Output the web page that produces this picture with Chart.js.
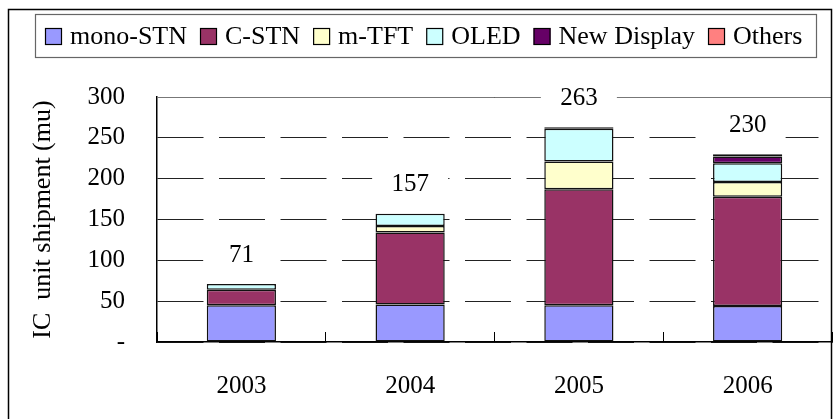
<!DOCTYPE html>
<html>
<head>
<meta charset="utf-8">
<script src="https://cdn.jsdelivr.net/npm/chart.js@4"></script>
<style>
  html, body { margin: 0; padding: 0; background: #fff; }
  #wrap { width: 833px; height: 419px; }
</style>
</head>
<body>
<div id="wrap"><canvas id="chart" width="833" height="419"></canvas></div>
<script>
// chart data
const years = ["2003", "2004", "2005", "2006"];
const monoStn = [45, 46, 45, 44];
const cStn = [19, 88, 142, 134];
const mTft = [0, 8, 34, 18];
const oled = [7, 15, 40, 23];
const newDisplay = [0, 0, 2, 8];
const others = [0, 0, 0, 3];
const yTicks = [0, 50, 100, 150, 200, 250, 300];

const FONT = "'Liberation Serif', 'Times New Roman', serif";

// white page + outer frame
const framePlugin = {
  id: "frame",
  beforeDraw: (chart) => {
    const ctx = chart.ctx;
    ctx.save();
    ctx.fillStyle = "#fff";
    ctx.fillRect(0, 0, chart.width, chart.height);
    ctx.restore();
  },
  beforeDatasetsDraw: (chart) => {
    // solid top line of the plot (300)
    const { ctx, chartArea } = chart;
    const y = Math.round(chart.scales.y.getPixelForValue(300)) + 0.5;
    ctx.save();
    ctx.strokeStyle = "#777";
    ctx.lineWidth = 1;
    ctx.beginPath();
    ctx.moveTo(chartArea.left, y);
    ctx.lineTo(chartArea.right, y);
    ctx.stroke();
    ctx.restore();
  },
  afterDraw: (chart) => {
    const ctx = chart.ctx;
    ctx.save();
    ctx.strokeStyle = "#000";
    ctx.lineWidth = 1.5;
    ctx.strokeRect(8.5, 9.5, 823, chart.height + 10);
    ctx.restore();
  },
};

// boxed legend on one row
const legendPlugin = {
  id: "boxLegend",
  afterDraw: (chart) => {
    const ctx = chart.ctx;
    ctx.save();
    ctx.fillStyle = "#fff";
    ctx.fillRect(35.5, 14.5, 781, 43);
    ctx.strokeStyle = "#666";
    ctx.lineWidth = 1.2;
    ctx.strokeRect(35.5, 14.5, 781, 43);
    ctx.font = "26px " + FONT;
    ctx.textBaseline = "middle";
    let x = 45;
    chart.data.datasets.forEach((ds) => {
      ctx.fillStyle = ds.backgroundColor;
      ctx.fillRect(x, 28, 17, 17);
      ctx.strokeStyle = "#000";
      ctx.lineWidth = 1.2;
      ctx.strokeRect(x + 0.5, 28.5, 16, 16);
      ctx.fillStyle = "#000";
      ctx.fillText(ds.label, x + 25, 37);
      x += 25 + ctx.measureText(ds.label).width + 13;
    });
    ctx.restore();
  },
};

// totals above each bar
const totalsPlugin = {
  id: "totals",
  afterDatasetsDraw: (chart) => {
    const ctx = chart.ctx;
    ctx.save();
    ctx.font = "25px " + FONT;
    ctx.textAlign = "center";
    ctx.textBaseline = "middle";
    years.forEach((yr, i) => {
      const total = chart.data.datasets.reduce((s, ds) => s + ds.data[i], 0);
      const x = chart.scales.x.getPixelForValue(i);
      const y = chart.scales.y.getPixelForValue(total) - 29;
      ctx.fillStyle = "#fff";
      ctx.fillRect(x - 38, y - 17, 76, 34);
      ctx.fillStyle = "#000";
      ctx.fillText(String(total), x, y);
    });
    ctx.restore();
  },
};

const makeSet = (label, data, color) => ({
  label: label,
  data: data,
  backgroundColor: color,
  borderColor: "#111",
  borderWidth: 1.5,
  borderSkipped: false,
  categoryPercentage: 1,
  barPercentage: 0.41,
});

const config = {
  type: "bar",
  data: {
    labels: years,
    datasets: [
      makeSet("mono-STN", monoStn, "#9999FF"),
      makeSet("C-STN", cStn, "#993366"),
      makeSet("m-TFT", mTft, "#FFFFCC"),
      makeSet("OLED", oled, "#CCFFFF"),
      makeSet("New Display", newDisplay, "#660066"),
      makeSet("Others", others, "#FF8080"),
    ],
  },
  options: {
    responsive: false,
    animation: false,
    layout: { padding: { top: 97, right: 1, bottom: 0, left: 0 } },
    plugins: {
      legend: { display: false },
      tooltip: { enabled: false },
    },
    scales: {
      x: {
        stacked: true,
        grid: {
          offset: true,
          drawOnChartArea: false,
          drawTicks: true,
          tickLength: -10,
          tickColor: "#000",
        },
        border: { color: "#000", width: 1.5 },
        ticks: {
          color: "#000",
          font: { family: FONT, size: 25 },
          padding: 39,
        },
        afterFit: (s) => { s.height = 77; },
      },
      y: {
        stacked: true,
        min: 0,
        max: 300,
        afterBuildTicks: (s) => { s.ticks = yTicks.map((v) => ({ value: v })); },
        grid: { color: "#222", lineWidth: 1, drawTicks: false },
        border: { color: "#000", width: 1.5, dash: [46, 15.5] },
        ticks: {
          color: "#000",
          font: { family: FONT, size: 25 },
          padding: 32,
          callback: (v) => (v === 0 ? "-" : v),
        },
        title: {
          display: true,
          text: "IC  unit shipment (mu)",
          color: "#000",
          font: { family: FONT, size: 26 },
          padding: { top: 28, bottom: 0 },
        },
        afterFit: (s) => { s.width = 157; },
      },
    },
  },
  plugins: [framePlugin, totalsPlugin, legendPlugin],
};

const chart = new Chart(document.getElementById("chart").getContext("2d"), config);
</script>
</body>
</html>
